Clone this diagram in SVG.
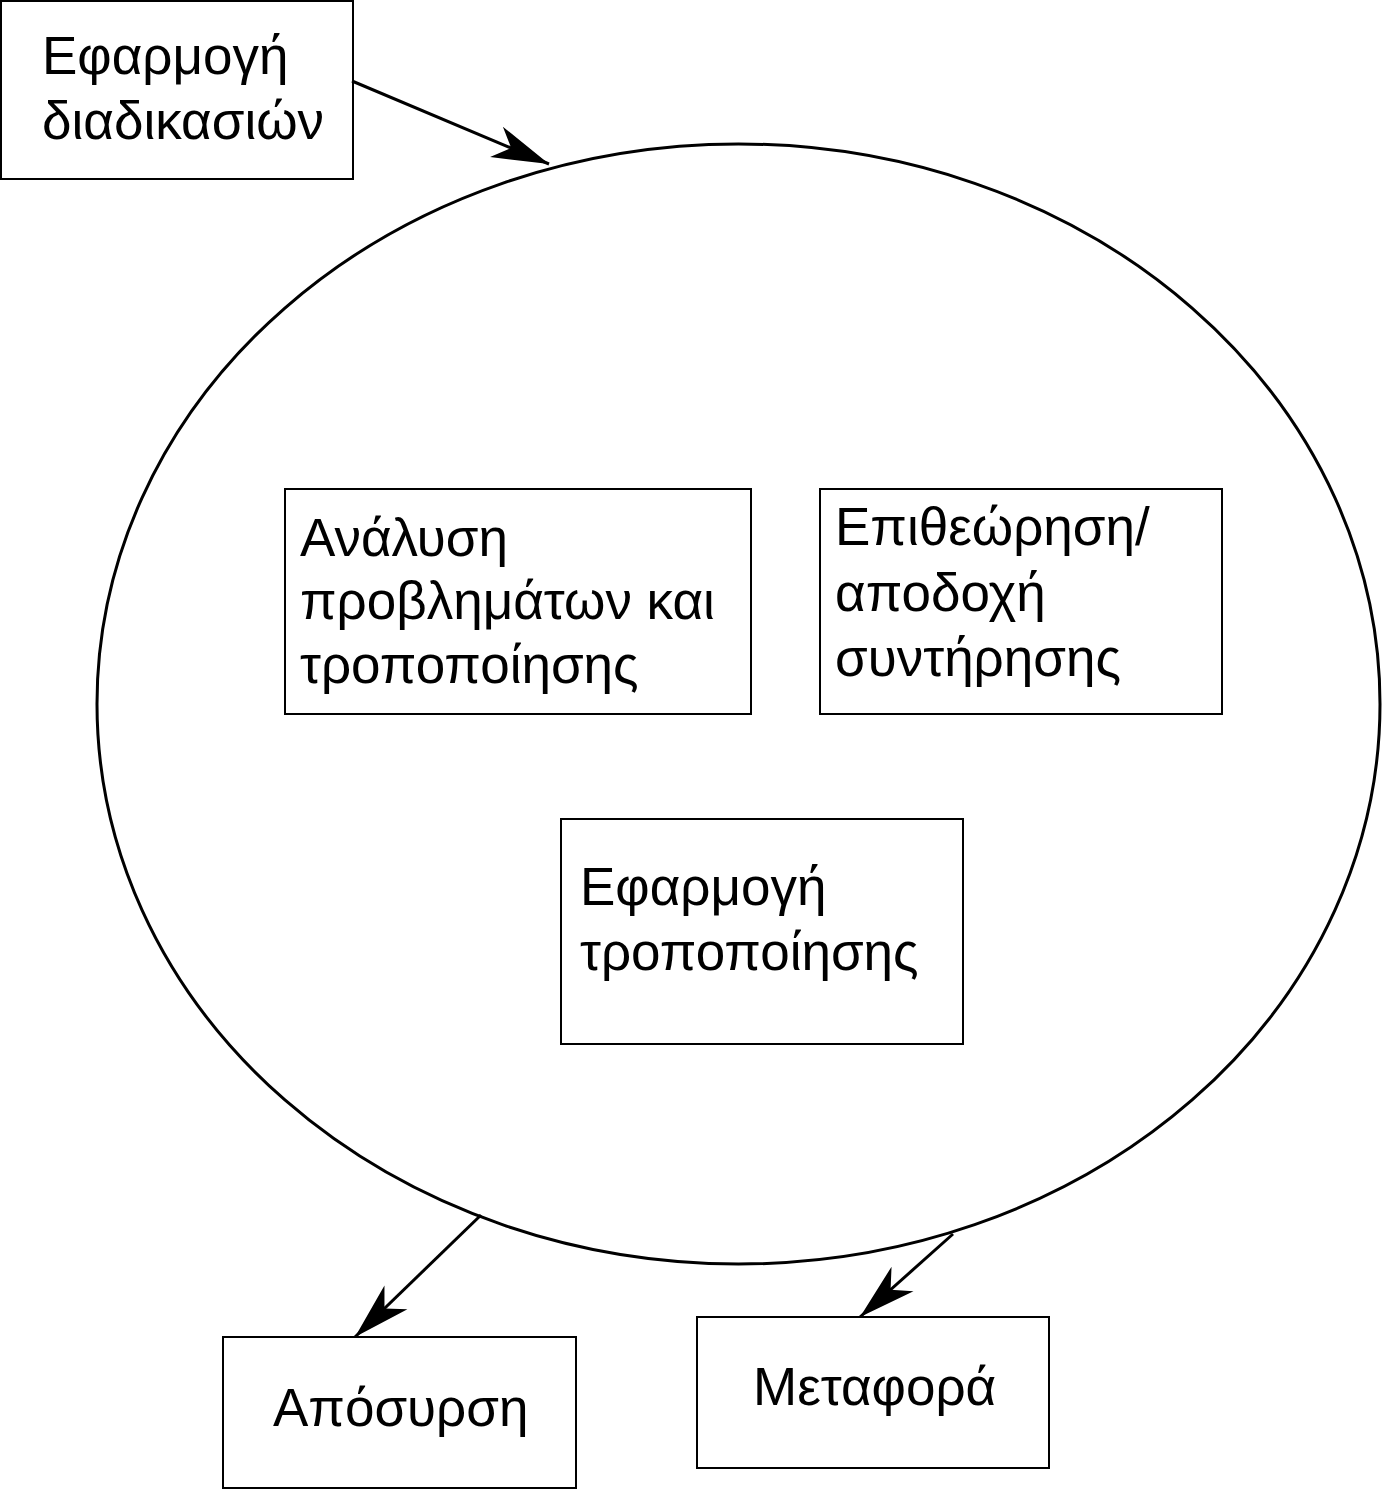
<svg xmlns="http://www.w3.org/2000/svg" width="1382" height="1489" viewBox="0 0 1382 1489">
<style>
.box{fill:#fff;stroke:#000;stroke-width:2}
.lbl{font-family:"Liberation Sans",Arial,sans-serif;font-size:53px;fill:#000}
.edge{fill:none;stroke:#000;stroke-width:3}
</style>
<defs>
<marker id="arr" markerUnits="userSpaceOnUse" markerWidth="62" markerHeight="40" refX="58" refY="18" orient="auto">
<path d="M58,18 L1,1.5 L17,18 L1,34.5 Z" fill="#000"/>
</marker>
</defs>
<rect width="1382" height="1489" fill="#fff"/>
<g id="cycle">
<ellipse cx="738.5" cy="704" rx="641.5" ry="560" fill="none" stroke="#000" stroke-width="3"/>
</g>
<g id="n-efarmogi-diadikasion">
<rect class="box" x="1" y="1" width="352" height="178"/>
<text class="lbl" x="42" y="74">Εφαρμογή</text>
<text class="lbl" x="42" y="139">διαδικασιών</text>
</g>
<g id="n-analysi">
<rect class="box" x="285" y="489" width="466" height="225"/>
<text class="lbl" x="300" y="556">Ανάλυση</text>
<text class="lbl" x="300" y="619">προβλημάτων και</text>
<text class="lbl" x="300" y="683">τροποποίησης</text>
</g>
<g id="n-epitheorisi">
<rect class="box" x="820" y="489" width="402" height="225"/>
<text class="lbl" x="835" y="545">Επιθεώρηση/</text>
<text class="lbl" x="835" y="611">αποδοχή</text>
<text class="lbl" x="835" y="676">συντήρησης</text>
</g>
<g id="n-efarmogi-tropopoiisis">
<rect class="box" x="561" y="819" width="402" height="225"/>
<text class="lbl" x="580" y="905">Εφαρμογή</text>
<text class="lbl" x="580" y="970">τροποποίησης</text>
</g>
<g id="n-aposyrsi">
<rect class="box" x="223" y="1337" width="353" height="151"/>
<text class="lbl" x="273" y="1426">Απόσυρση</text>
</g>
<g id="n-metafora">
<rect class="box" x="697" y="1317" width="352" height="151"/>
<text class="lbl" x="753" y="1405">Μεταφορά</text>
</g>
<g id="connectors">
<line class="edge" x1="352" y1="81" x2="549" y2="164" marker-end="url(#arr)"/>
<line class="edge" x1="481" y1="1215" x2="355" y2="1337" marker-end="url(#arr)"/>
<line class="edge" x1="953" y1="1234" x2="860" y2="1317" marker-end="url(#arr)"/>
</g>
</svg>
